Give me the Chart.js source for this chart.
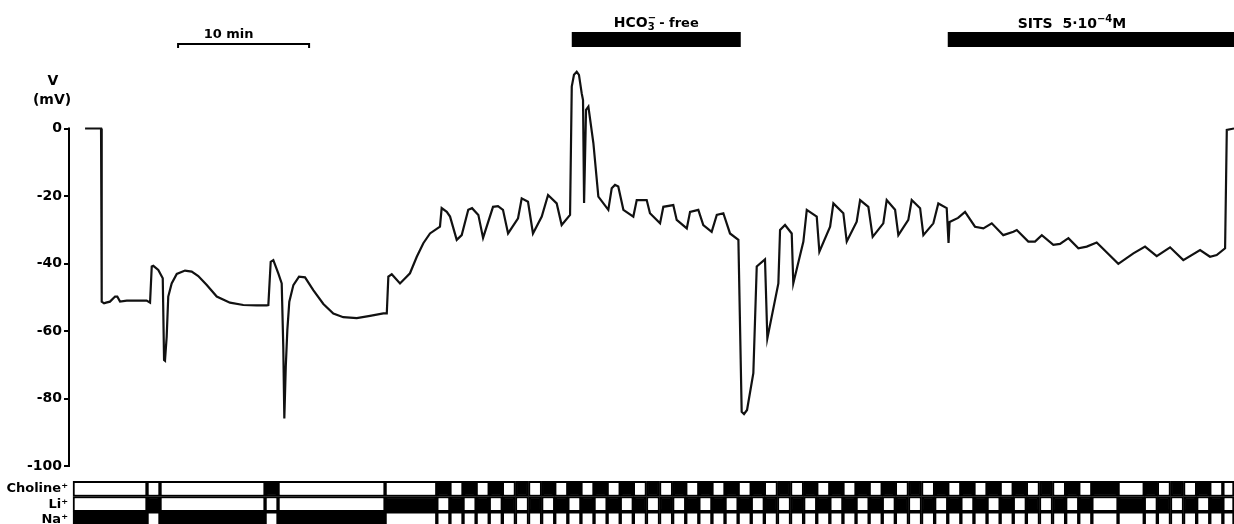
<!DOCTYPE html>
<html>
<head>
<meta charset="utf-8">
<script src="https://cdn.jsdelivr.net/npm/chart.js@4/dist/chart.umd.min.js"></script>
<style>
  html, body { margin: 0; padding: 0; background: #fff; overflow: hidden; }
  #wrap { width: 1234px; height: 524px; overflow: hidden; }
</style>
</head>
<body>
<div id="wrap"><canvas id="trace" width="1234" height="527"></canvas></div>
<script>
// membrane potential (time in min, V in mV)
const timeMin = [1.15, 2.37, 2.42, 2.60, 2.75, 3.05, 3.44, 3.61, 3.82, 4.33,
  5.85, 6.11, 6.24, 6.36, 6.74, 7.08, 7.18, 7.25, 7.38, 7.50,
  7.76, 8.15, 8.78, 9.29, 9.79, 10.44, 11.20, 12.21, 13.23, 14.25,
  15.02, 15.14, 15.32, 15.52, 15.90, 16.16, 16.28, 16.36, 16.47, 16.59,
  16.74, 17.05, 17.48, 17.94, 18.57, 19.34, 20.10, 20.86, 21.89, 22.90,
  23.92, 24.18, 24.30, 24.56, 25.19, 25.95, 26.47, 26.97, 27.48, 28.24,
  28.37, 28.76, 29.01, 29.52, 29.90, 30.40, 30.69, 31.17, 31.53, 32.29,
  32.67, 33.05, 33.44, 34.20, 34.48, 34.96, 35.34, 36.01, 36.49, 37.15,
  37.53, 38.17, 38.30, 38.47, 38.68, 38.85, 39.06, 39.16, 39.24, 39.39,
  39.57, 39.95, 40.33, 41.09, 41.35, 41.60, 41.85, 42.24, 43.00, 43.26,
  44.02, 44.27, 45.04, 45.29, 46.05, 46.31, 47.08, 47.33, 47.96, 48.34,
  48.98, 49.37, 49.87, 50.38, 51.02, 51.27, 51.45, 51.68, 52.16, 52.42,
  53.05, 53.23, 54.07, 54.20, 54.58, 55.09, 55.21, 55.98, 56.24, 57.00,
  57.20, 58.02, 58.27, 59.03, 59.29, 60.05, 60.31, 60.94, 61.27, 62.08,
  62.34, 62.98, 63.23, 63.99, 64.25, 64.89, 65.14, 65.90, 66.28, 66.92,
  67.06, 67.14, 67.79, 68.32, 69.08, 69.72, 70.36, 71.24, 72.01, 72.27,
  73.15, 73.66, 74.18, 75.06, 75.57, 76.21, 76.97, 77.61, 78.37, 80.02,
  81.17, 82.06, 82.95, 83.97, 84.98, 86.26, 87.02, 87.53, 88.17, 88.30, 88.85];

const voltage = [0, 0, -51.3, -51.8, -51.6, -51.3, -49.8, -49.8, -51.3, -51.0,
  -51.0, -51.6, -40.9, -40.7, -41.9, -44.4, -68.6, -68.8, -61.7, -49.8,
  -45.9, -43.1, -42.1, -42.4, -43.7, -46.4, -49.8, -51.6, -52.3, -52.4,
  -52.4, -52.3, -39.5, -39.0, -42.9, -45.9, -64.7, -85.9, -70.6, -59.7,
  -51.3, -46.4, -43.9, -44.1, -47.9, -52.0, -54.8, -55.9, -56.2, -55.5,
  -54.8, -54.8, -43.9, -43.2, -45.9, -42.9, -38.0, -34.0, -31.1, -29.1,
  -23.6, -24.7, -26.1, -33.0, -31.6, -24.1, -23.6, -25.6, -32.4, -23.2,
  -23.0, -24.1, -31.1, -26.6, -20.7, -21.7, -31.1, -26.1, -19.7, -22.2,
  -28.6, -25.6, 12.4, 15.9, 16.8, 15.9, 10.4, 8.4, -22.1, 5.5,
  6.5, -4.3, -20.2, -24.1, -17.7, -16.7, -17.2, -24.1, -26.1, -21.2,
  -21.2, -25.1, -28.1, -23.2, -22.7, -27.1, -29.6, -24.7, -24.1, -28.6,
  -30.6, -25.6, -25.1, -31.1, -33.0, -83.9, -84.6, -83.4, -72.5, -40.9,
  -38.8, -62.2, -45.9, -30.1, -28.6, -31.1, -45.9, -33.5, -24.1, -26.1,
  -36.5, -29.1, -22.2, -25.1, -33.5, -27.6, -21.2, -23.2, -32.1, -28.1,
  -21.2, -24.1, -31.6, -27.1, -21.2, -23.6, -31.6, -28.1, -22.2, -23.6,
  -33.9, -27.7, -26.5, -24.7, -29.1, -29.6, -28.1, -31.6, -30.6, -30.1,
  -33.5, -33.5, -31.6, -34.5, -34.2, -32.5, -35.5, -35.0, -33.8, -40.1,
  -37.0, -35.0, -37.8, -35.2, -39.0, -36.0, -38.0, -37.5, -35.5, -0.4, 0];

// superfusion protocol: one code per period (N = Na+, L = Li+, C = Choline+, - = none)
const rowLabels = ['', 'Choline⁺', 'Li⁺', 'Na⁺'];
const solEdges = [0.23, 5.88, 6.87, 14.89, 15.88, 24.05,
  28, 29, 30, 31, 32, 33, 34, 35, 36, 37, 38, 39, 40, 41, 42, 43, 44, 45, 46, 47,
  48, 49, 50, 51, 52, 53, 54, 55, 56, 57, 58, 59, 60, 61, 62, 63, 64, 65, 66, 67,
  68, 69, 70, 71, 72, 73, 74, 75, 76, 77, 78, 80, 82, 83, 84, 85, 86, 87, 88, 88.85];
const solCodes = 'NLNCNL' + 'CLCLCLCLCLCLCLCLCLCL' + 'CLCLCLCLCLCLCLCLCLCL' + 'CLCLCLCLCLCLCLCLCL' + '-';
const codeRow = { N: 'Na⁺', L: 'Li⁺', C: 'Choline⁺' };

// bars above the trace (min)
const scaleBar = [8.25, 18.25];
const hco3Free = [38.3, 51.2];
const sitsBar = [67.0, 88.85];

const FONT = '"DejaVu Sans", sans-serif';

const cells = [];
for (let i = 0; i < solCodes.length; i++) {
  ['Choline⁺', 'Li⁺', 'Na⁺'].forEach(row => {
    cells.push({ x: [solEdges[i], solEdges[i + 1]], y: row, on: codeRow[solCodes[i]] === row });
  });
}

// draws a label made of runs: [text, size, dy, advances]
function drawRuns(ctx, runs, cx, base) {
  let w = 0;
  runs.forEach(r => {
    ctx.font = 'bold ' + r[1] + 'px ' + FONT;
    r.w = ctx.measureText(r[0]).width;
    if (r[3] !== false) w += r.w;
  });
  let xx = cx - w / 2;
  runs.forEach(r => {
    ctx.font = 'bold ' + r[1] + 'px ' + FONT;
    ctx.fillText(r[0], xx, base + r[2]);
    if (r[3] !== false) xx += r.w;
  });
}

// no extra room for half-labels at the ends of the stacked axes
function noPad(s) {
  s.width = 70;
  s.paddingTop = 0;
  s.paddingBottom = 0;
}

const overlay = {
  id: 'overlay',
  afterDatasetsDraw(chart) {
    const { ctx, chartArea } = chart;
    const x = chart.scales.x, y = chart.scales.y;
    ctx.save();
    ctx.fillStyle = '#000';
    ctx.strokeStyle = '#000';

    // voltage axis line, 0 to -100 only
    ctx.lineWidth = 2;
    ctx.beginPath();
    ctx.moveTo(chartArea.left - 1, y.getPixelForValue(0) - 1);
    ctx.lineTo(chartArea.left - 1, y.getPixelForValue(-100) + 1);
    ctx.stroke();

    ctx.textAlign = 'left';
    ctx.textBaseline = 'alphabetic';
    drawRuns(ctx, [['V', 14, 0]], 53, 85);
    drawRuns(ctx, [['(mV)', 14, 0]], 52, 104);

    // 10 min scale bar
    const s0 = x.getPixelForValue(scaleBar[0]), s1 = x.getPixelForValue(scaleBar[1]);
    ctx.beginPath();
    ctx.moveTo(s0, 48); ctx.lineTo(s0, 44); ctx.lineTo(s1, 44); ctx.lineTo(s1, 48);
    ctx.stroke();
    drawRuns(ctx, [['10 min', 13, 0]], (s0 + s1) / 2 - 15, 38);

    // HCO3- free period
    const h0 = x.getPixelForValue(hco3Free[0]), h1 = x.getPixelForValue(hco3Free[1]);
    ctx.fillRect(h0, 32, h1 - h0, 15);
    drawRuns(ctx, [['HCO', 14, 0], ['−', 10, -6, false], ['3', 10, 3], [' - free', 13, 0]], (h0 + h1) / 2, 27);

    // SITS period
    const t0 = x.getPixelForValue(sitsBar[0]), t1 = x.getPixelForValue(sitsBar[1]);
    ctx.fillRect(t0, 32, t1 - t0, 15);
    drawRuns(ctx, [['SITS  5·10', 14, 0], ['−4', 10, -6], ['M', 14, 0]], 1072, 28);

    ctx.restore();
  }
};

new Chart(document.getElementById('trace'), {
  type: 'line',
  data: {
    datasets: [{
      type: 'line',
      data: timeMin.map((t, i) => ({ x: t, y: voltage[i] })),
      xAxisID: 'x',
      yAxisID: 'y',
      borderColor: '#111',
      borderWidth: 2.2,
      pointRadius: 0,
      tension: 0
    }, {
      type: 'bar',
      indexAxis: 'y',
      data: cells,
      xAxisID: 'x',
      yAxisID: 'yRow',
      backgroundColor: ctx => (ctx.raw && ctx.raw.on) ? '#000' : '#fff',
      borderColor: '#000',
      borderWidth: 2,
      borderSkipped: false,
      barPercentage: 1,
      categoryPercentage: 1
    }]
  },
  options: {
    responsive: false,
    devicePixelRatio: 1,
    animation: false,
    layout: { padding: { top: 61, right: 0, bottom: 0, left: 0 } },
    plugins: { legend: { display: false }, tooltip: { enabled: false } },
    scales: {
      x: { type: 'linear', min: 0, max: 88.85, display: false },
      yRow: {
        type: 'category',
        labels: rowLabels,
        offset: true,
        position: 'left',
        stack: 'left',
        stackWeight: 61,
        grid: { display: false, drawTicks: false },
        border: { display: false },
        ticks: { autoSkip: false, padding: 2, color: '#000', font: { family: FONT, size: 13, weight: 'bold' } },
        afterFit: noPad
      },
      y: {
        type: 'linear',
        min: -100,
        max: 20,
        position: 'left',
        stack: 'left',
        stackWeight: 405,
        border: { display: false },
        grid: { drawOnChartArea: false, drawTicks: true, tickLength: 6, color: '#000', lineWidth: 2 },
        ticks: { stepSize: 20, autoSkip: false, padding: 2, color: '#000', font: { family: FONT, size: 14, weight: 'bold' } },
        afterBuildTicks: s => { s.ticks = s.ticks.filter(t => t.value <= 0); },
        afterFit: noPad
      }
    }
  },
  plugins: [overlay]
});
</script>
</body>
</html>
